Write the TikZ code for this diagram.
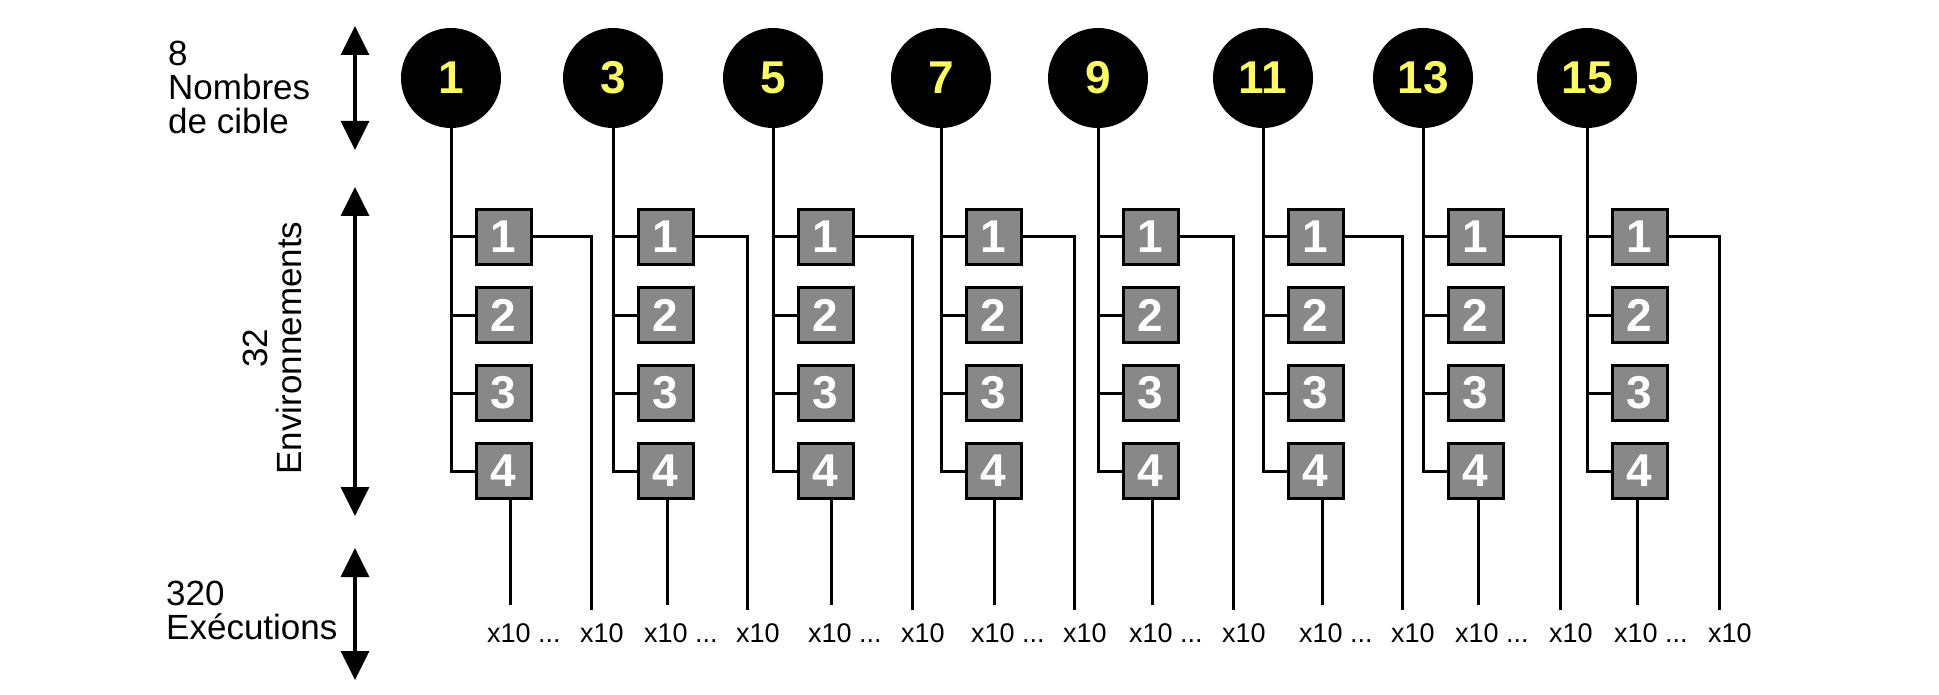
\documentclass[tikz,border=0pt]{standalone}
\usepackage{fontspec}
\setmainfont{Liberation Sans}
\usetikzlibrary{arrows.meta}
\definecolor{numyellow}{RGB}{250,250,100}
\definecolor{envgray}{RGB}{136,136,136}

\begin{document}
\begin{tikzpicture}[x=1pt,y=-1pt,
    cible/.style={circle, fill=black, minimum size=100pt, inner sep=0pt,
      text=numyellow, font=\fontsize{46}{46}\selectfont\bfseries},
    env/.style={draw=black, line width=3pt, fill=envgray, minimum width=55pt,
      minimum height=55pt, inner sep=0pt, text=white,
      font=\fontsize{46}{46}\selectfont\bfseries},
    link/.style={line width=3pt},
    axis/.style={line width=3.5pt,
      {Triangle[width=28pt,length=29pt]}-{Triangle[width=28pt,length=29pt]}},
    legend/.style={align=left, inner sep=0pt, font=\fontsize{35}{34}\selectfont},
    runs/.style={inner sep=0pt, anchor=west, font=\fontsize{27}{27}\selectfont}]
  \useasboundingbox (0,0) rectangle (1939,695);
  % left side: counts and axes
  \coordinate (ax1t) at (355,26);  \coordinate (ax1b) at (355,150);
  \coordinate (ax2t) at (355,187); \coordinate (ax2b) at (355,516);
  \coordinate (ax3t) at (355,548); \coordinate (ax3b) at (355,680);
  \draw[axis] (ax1t) -- (ax1b);
  \draw[axis] (ax2t) -- (ax2b);
  \draw[axis] (ax3t) -- (ax3b);
  \node[legend, anchor=west] (nombres) at (168,87) {8\\Nombres\\de cible};
  \node[legend, align=center, rotate=90] (envs) at (272,348) {32\\Environnements};
  \node[legend, anchor=west] (execs) at (166,610) {320\\Exécutions};
  % one column per target number
  \foreach \col/\num/\tx/\bx/\rx in {1/1/451/510/591, 2/3/613/667/747,
      3/5/773/831/912, 4/7/941/994/1074, 5/9/1098/1152/1233,
      6/11/1263/1322/1402, 7/13/1423/1478/1560, 8/15/1587/1637/1719} {
    \node[cible] (c\col) at (\tx,78) {\num};
    \foreach \k/\y in {1/237, 2/315, 3/393, 4/471}
      \node[env] (e\col-\k) at (\tx+52.5,\y) {\k};
    \draw[link] (c\col.south) |- (e\col-4.west);
    \foreach \k in {1,2,3}
      \draw[link] (c\col.south |- e\col-\k.west) -- (e\col-\k.west);
    % runs
    \coordinate (r\col) at (\rx,610);
    \coordinate (b\col) at (\bx,605);
    \draw[link] (e\col-1.east) -| (r\col);
    \draw[link] (b\col |- e\col-4.south) -- (b\col);
    \node[runs] (xa\col) at ([shift={(-23,28)}]b\col) {x10 ...};
    \node[runs] (xb\col) at ([shift={(-11,23)}]r\col) {x10};
  }
\end{tikzpicture}
\end{document}
